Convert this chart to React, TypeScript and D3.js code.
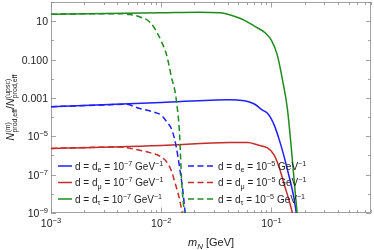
import React, { useEffect, useRef } from "react";
import * as d3 from "d3";

// solid curves, d = 1e-7 GeV^-1
const massE7 = [0.001, 0.01, 0.0417, 0.057, 0.07, 0.083, 0.092, 0.106, 0.118, 0.14, 0.161, 0.168];
const ratioE7 = [3.5e-4, 5.8e-4, 8.1e-4, 7.2e-4, 4.8e-4, 2.3e-4, 1.6e-4, 3.8e-5, 6.3e-6, 1.7e-7, 4.8e-9, 1e-9];
const massMu7 = [0.001, 0.01, 0.0417, 0.061, 0.075, 0.092, 0.106, 0.118, 0.131, 0.146, 0.155];
const ratioMu7 = [2.3e-6, 3.3e-6, 4.7e-6, 4.7e-6, 3.5e-6, 2.5e-6, 1.05e-6, 2.2e-7, 2.9e-8, 3.7e-9, 1e-9];
const massTau7 = [0.001, 0.01, 0.0223, 0.034, 0.046, 0.057, 0.07, 0.088, 0.1, 0.113, 0.126, 0.14, 0.152, 0.165, 0.171];
const ratioTau7 = [23, 27.5, 29.5, 27.5, 18, 11, 5.5, 2.4, 1.0, 0.17, 8.5e-3, 2.3e-4, 1.9e-6, 8.7e-9, 1e-9];

// dashed curves, d = 1e-5 GeV^-1
const massE5 = [0.001, 0.00342, 0.00468, 0.00638, 0.00838, 0.01, 0.0112, 0.0127, 0.01374, 0.0147, 0.01567, 0.01649];
const ratioE5 = [3.5e-4, 4.4e-4, 4.7e-4, 2.8e-4, 1.9e-4, 1.26e-4, 5.8e-5, 1.66e-5, 2.5e-6, 2.2e-7, 1.6e-8, 1e-9];
const massMu5 = [0.001, 0.0042, 0.00575, 0.00787, 0.01, 0.0112, 0.01245, 0.01352, 0.0147, 0.0155];
const ratioMu5 = [2.3e-6, 2.75e-6, 2.1e-6, 1.4e-6, 8.3e-7, 4.6e-7, 1.4e-7, 2.9e-8, 4.8e-9, 1e-9];
const massTau5 = [0.001, 0.0028, 0.0042, 0.0052, 0.0064, 0.0079, 0.0091, 0.0101, 0.0112, 0.01236, 0.0137, 0.0147, 0.0153, 0.0163];
const ratioTau5 = [23, 24.5, 24.5, 22, 16.6, 8.9, 2.75, 0.81, 0.17, 0.0126, 7.8e-4, 1e-5, 5.2e-8, 1e-9];

const xTicks = [0.001, 0.01, 0.1];
const xTickLabels = [["10", "−3"], ["10", "−2"], ["10", "−1"]];
const yTicks = [10, 0.1, 0.001, 1e-5, 1e-7, 1e-9];
const yTickLabels = [["10", ""], ["0.100", ""], ["0.001", ""], ["10", "−5"], ["10", "−7"], ["10", "−9"]];
const legendSubs = ["e", "μ", "τ"];
const legendExps = ["−7", "−5"];

const FONT = "'Liberation Sans', Arial, sans-serif";
const BLUE = "#1f1fff";
const RED = "#c42b2b";
const GREEN = "#1f8a1f";

type Part = { t: string; s?: "sup" | "sub"; i?: boolean };

const rich = (text: any, parts: Part[], size: number) => {
  let cur = 0;
  parts.forEach((p) => {
    const target = p.s === "sup" ? -size * 0.38 : p.s === "sub" ? size * 0.25 : 0;
    text
      .append("tspan")
      .attr("dy", target - cur)
      .attr("font-size", p.s ? size * 0.72 : size)
      .attr("font-style", p.i ? "italic" : "normal")
      .text(p.t);
    cur = target;
  });
};

const App = () => {
  const ref = useRef<SVGSVGElement>(null);

  useEffect(() => {
    const svg = d3.select(ref.current);
    svg.selectAll("*").remove();

    const width = 374;
    const height = 250;
    const margin = { top: 2, right: 3, bottom: 37, left: 51 };
    const x = d3.scaleLog().domain([0.001, 0.8]).range([margin.left, width - margin.right]);
    const y = d3.scaleLog().domain([1e-9, 100]).range([height - margin.bottom, margin.top]);
    const [x0, x1] = x.range();
    const [y0, y1] = y.range();

    svg.attr("width", width).attr("height", height).attr("font-family", FONT);

    svg.append("clipPath").attr("id", "plot-clip")
      .append("rect").attr("x", x0).attr("y", y1).attr("width", x1 - x0).attr("height", y0 - y1);

    // ticks
    const frameColor = "#8c8c8c";
    const tg = svg.append("g").attr("stroke", frameColor).attr("stroke-width", 0.8);
    const xMinor: number[] = [];
    for (let e = -3; e < 0; e++) for (let k = 1; k < 10; k++) {
      const v = k * Math.pow(10, e);
      if (v <= 0.8) xMinor.push(v);
    }
    xMinor.forEach((v) => {
      const len = xTicks.includes(v) ? 5.5 : 3;
      const px = Math.round(x(v)) + 0.5;
      tg.append("line").attr("x1", px).attr("x2", px).attr("y1", y0).attr("y2", y0 - len);
      tg.append("line").attr("x1", px).attr("x2", px).attr("y1", y1).attr("y2", y1 + len);
    });
    d3.range(-9, 3).forEach((e) => {
      const v = Math.pow(10, e);
      const major = yTicks.some((t) => Math.abs(Math.log10(t) - e) < 1e-6);
      const l = major ? 5 : 3;
      const py = Math.round(y(v)) + 0.5;
      tg.append("line").attr("x1", x0).attr("x2", x0 + l).attr("y1", py).attr("y2", py);
      tg.append("line").attr("x1", x1).attr("x2", x1 - l).attr("y1", py).attr("y2", py);
    });

    // frame
    svg.append("rect")
      .attr("x", x0 + 0.5).attr("y", y1 + 0.5)
      .attr("width", x1 - x0 - 1).attr("height", y0 - y1 - 1)
      .attr("fill", "none").attr("stroke", frameColor).attr("stroke-width", 0.8);

    // tick labels
    xTicks.forEach((v, i) => {
      const t = svg.append("text").attr("x", x(v)).attr("y", y0 + 14)
        .attr("text-anchor", "middle").attr("fill", "#222");
      rich(t, [{ t: xTickLabels[i][0] }, { t: xTickLabels[i][1], s: "sup" }], 10.5);
    });
    yTicks.forEach((v, i) => {
      const t = svg.append("text").attr("x", x0 - 3).attr("y", y(v) + 4)
        .attr("text-anchor", "end").attr("fill", "#222");
      const parts: Part[] = [{ t: yTickLabels[i][0] }];
      if (yTickLabels[i][1]) parts.push({ t: yTickLabels[i][1], s: "sup" });
      rich(t, parts, 10.5);
    });

    // curves
    const series = [
      { m: massE7, r: ratioE7, color: BLUE, dash: null },
      { m: massMu7, r: ratioMu7, color: RED, dash: null },
      { m: massTau7, r: ratioTau7, color: GREEN, dash: null },
      { m: massE5, r: ratioE5, color: BLUE, dash: "6,3.5" },
      { m: massMu5, r: ratioMu5, color: RED, dash: "6,3.5" },
      { m: massTau5, r: ratioTau5, color: GREEN, dash: "6,3.5" },
    ];
    const line = d3.line<[number, number]>()
      .x((d) => x(d[0]))
      .y((d) => y(d[1]))
      .curve(d3.curveMonotoneX);
    const cg = svg.append("g").attr("clip-path", "url(#plot-clip)");
    series.forEach((s) => {
      cg.append("path")
        .datum(s.m.map((m, i) => [m, s.r[i]] as [number, number]))
        .attr("d", line)
        .attr("fill", "none")
        .attr("stroke", s.color)
        .attr("stroke-width", 1.5)
        .attr("stroke-dasharray", s.dash);
    });

    // legend
    const colors = [BLUE, RED, GREEN];
    const rowY = [166, 182.5, 199];
    const cols = [
      { lx0: 58, lx1: 72, tx: 75, dash: null, exp: legendExps[0] },
      { lx0: 188, lx1: 213, tx: 218, dash: "6,3.5", exp: legendExps[1] },
    ];
    cols.forEach((c) => {
      legendSubs.forEach((sub, i) => {
        svg.append("line")
          .attr("x1", c.lx0).attr("x2", c.lx1).attr("y1", rowY[i]).attr("y2", rowY[i])
          .attr("stroke", colors[i]).attr("stroke-width", 1.5).attr("stroke-dasharray", c.dash);
        const t = svg.append("text").attr("x", c.tx).attr("y", rowY[i] + 3.6)
          .attr("fill", "#222").style("white-space", "pre");
        rich(t, [
          { t: "d = d" },
          { t: sub, s: "sub" },
          { t: " = 10" },
          { t: c.exp, s: "sup" },
          { t: " GeV" },
          { t: "−1", s: "sup" },
        ], 10);
      });
    });

    // x axis title
    const xt = svg.append("text").attr("x", (x0 + x1) / 2).attr("y", 246)
      .attr("text-anchor", "middle").attr("fill", "#222").style("white-space", "pre");
    rich(xt, [{ t: "m", i: true }, { t: "N", s: "sub", i: true }, { t: " [GeV]" }], 11);

    // y axis title, stacked sup/sub
    const yg = svg.append("g");
    const inner = yg.append("g");
    let cx = 0;
    const put = (txt: string, size: number, dy: number, italic = false) => {
      const el = inner.append("text").attr("x", cx).attr("y", dy)
        .attr("font-size", size).attr("font-style", italic ? "italic" : "normal")
        .attr("fill", "#222").text(txt);
      return (el.node() as SVGTextElement).getComputedTextLength();
    };
    const block = (base: string, sup: string, sub: string) => {
      cx += put(base, 10.5, 0, true) + 0.3;
      const w1 = put(sup, 7, -4.5);
      const w2 = put(sub, 7, 3);
      cx += Math.max(w1, w2);
    };
    block("N", "(m)", "prod,eff");
    cx += put("/", 10.5, 0);
    block("N", "(upsc)", "prod,eff");
    yg.attr("transform", `translate(14,${(y0 + y1) / 2 + cx / 2}) rotate(-90)`);
  }, []);

  return (
    <div style={{ position: "fixed", left: 0, top: 0 }}>
      <svg ref={ref}></svg>
    </div>
  );
};

export default App;
